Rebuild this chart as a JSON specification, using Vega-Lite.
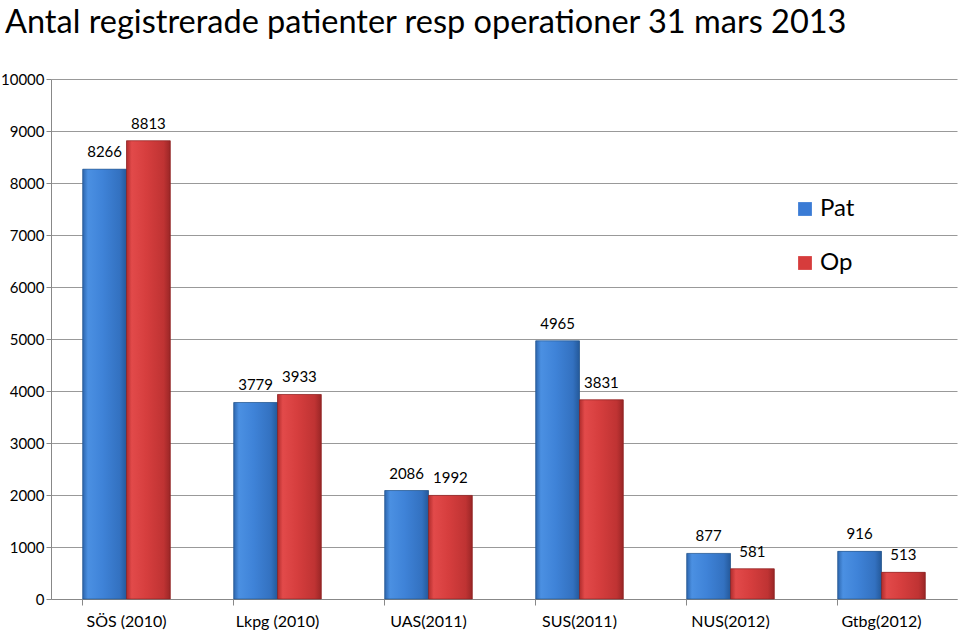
{
  "$schema": "https://vega.github.io/schema/vega-lite/v6.json",
  "autosize": {"type": "none"},
  "width": 906,
  "height": 520,
  "padding": {"left": 51, "top": 79, "right": 3, "bottom": 34},
  "background": "white",
  "title": {
    "text": "Antal registrerade patienter resp operationer 31 mars 2013",
    "anchor": "start",
    "frame": "group",
    "dx": -46,
    "offset": 33,
    "font": "Lato",
    "fontSize": 32.5,
    "fontWeight": "normal",
    "color": "#000000"
  },
  "config": {
    "view": {"stroke": null},
    "font": "Lato"
  },
  "data": {
    "values": [
      {"site": "SÖS (2010)", "series": "Pat", "value": 8266},
      {"site": "SÖS (2010)", "series": "Op", "value": 8813},
      {"site": "Lkpg (2010)", "series": "Pat", "value": 3779},
      {"site": "Lkpg (2010)", "series": "Op", "value": 3933},
      {"site": "UAS(2011)", "series": "Pat", "value": 2086},
      {"site": "UAS(2011)", "series": "Op", "value": 1992},
      {"site": "SUS(2011)", "series": "Pat", "value": 4965},
      {"site": "SUS(2011)", "series": "Op", "value": 3831},
      {"site": "NUS(2012)", "series": "Pat", "value": 877},
      {"site": "NUS(2012)", "series": "Op", "value": 581},
      {"site": "Gtbg(2012)", "series": "Pat", "value": 916},
      {"site": "Gtbg(2012)", "series": "Op", "value": 513}
    ]
  },
  "encoding": {
    "x": {
      "field": "site",
      "type": "nominal",
      "sort": null,
      "scale": {"paddingInner": 0.42, "paddingOuter": 0.21},
      "axis": {
        "title": null,
        "labelAngle": 0,
        "labelFontSize": 16,
        "labelColor": "#000000",
        "labelPadding": 8,
        "bandPosition": 0,
        "tickSize": 6,
        "tickColor": "#888888",
        "domainColor": "#888888",
        "grid": false
      }
    },
    "xOffset": {"field": "series", "type": "nominal", "sort": ["Pat", "Op"], "scale": {"domain": ["Pat", "Op"]}},
    "y": {
      "field": "value",
      "type": "quantitative",
      "scale": {"domain": [0, 10000], "nice": false},
      "axis": {
        "title": null,
        "values": [0, 1000, 2000, 3000, 4000, 5000, 6000, 7000, 8000, 9000, 10000],
        "format": "d",
        "labelFontSize": 15,
        "labelColor": "#000000",
        "labelPadding": 2,
        "tickSize": 5,
        "tickColor": "#888888",
        "domainColor": "#888888",
        "gridColor": "#999999",
        "gridWidth": 1.2,
        "grid": true
      }
    }
  },
  "layer": [
    {
      "mark": {"type": "bar"},
      "encoding": {
        "color": {
          "field": "series",
          "type": "nominal",
          "scale": {"domain": ["Pat", "Op"], "range": ["#3A7BD5", "#D63C3C"]},
          "legend": {
            "title": null,
            "orient": "none",
            "legendX": 742,
            "legendY": 118,
            "symbolType": "square",
            "symbolSize": 190,
            "symbolStrokeWidth": 0,
            "labelFontSize": 24,
            "labelColor": "#000000",
            "labelOffset": 3,
            "rowPadding": 30,
            "symbolOpacity": 1
          }
        }
      }
    },
    {
      "transform": [{"filter": "datum.series === 'Pat'"}],
      "mark": {
        "type": "bar",
        "stroke": "#23507F",
        "strokeWidth": 0.6,
        "color": {
          "gradient": "linear",
          "x1": 0, "x2": 1, "y1": 0, "y2": 0,
          "stops": [
            {"offset": 0, "color": "#2C66AE"},
            {"offset": 0.12, "color": "#4B90E2"},
            {"offset": 0.45, "color": "#3F83D8"},
            {"offset": 0.85, "color": "#3371C0"},
            {"offset": 1, "color": "#24599A"}
          ]
        }
      }
    },
    {
      "transform": [{"filter": "datum.series === 'Op'"}],
      "mark": {
        "type": "bar",
        "stroke": "#7F2020",
        "strokeWidth": 0.6,
        "color": {
          "gradient": "linear",
          "x1": 0, "x2": 1, "y1": 0, "y2": 0,
          "stops": [
            {"offset": 0, "color": "#B02C2C"},
            {"offset": 0.12, "color": "#E24A4A"},
            {"offset": 0.45, "color": "#D63E3E"},
            {"offset": 0.85, "color": "#BF3333"},
            {"offset": 1, "color": "#9A2626"}
          ]
        }
      }
    },
    {
      "mark": {"type": "text", "baseline": "bottom", "dy": -9, "fontSize": 15, "font": "Lato", "color": "#000000"},
      "encoding": {
        "text": {"field": "value", "type": "quantitative", "format": "d"}
      }
    }
  ]
}
